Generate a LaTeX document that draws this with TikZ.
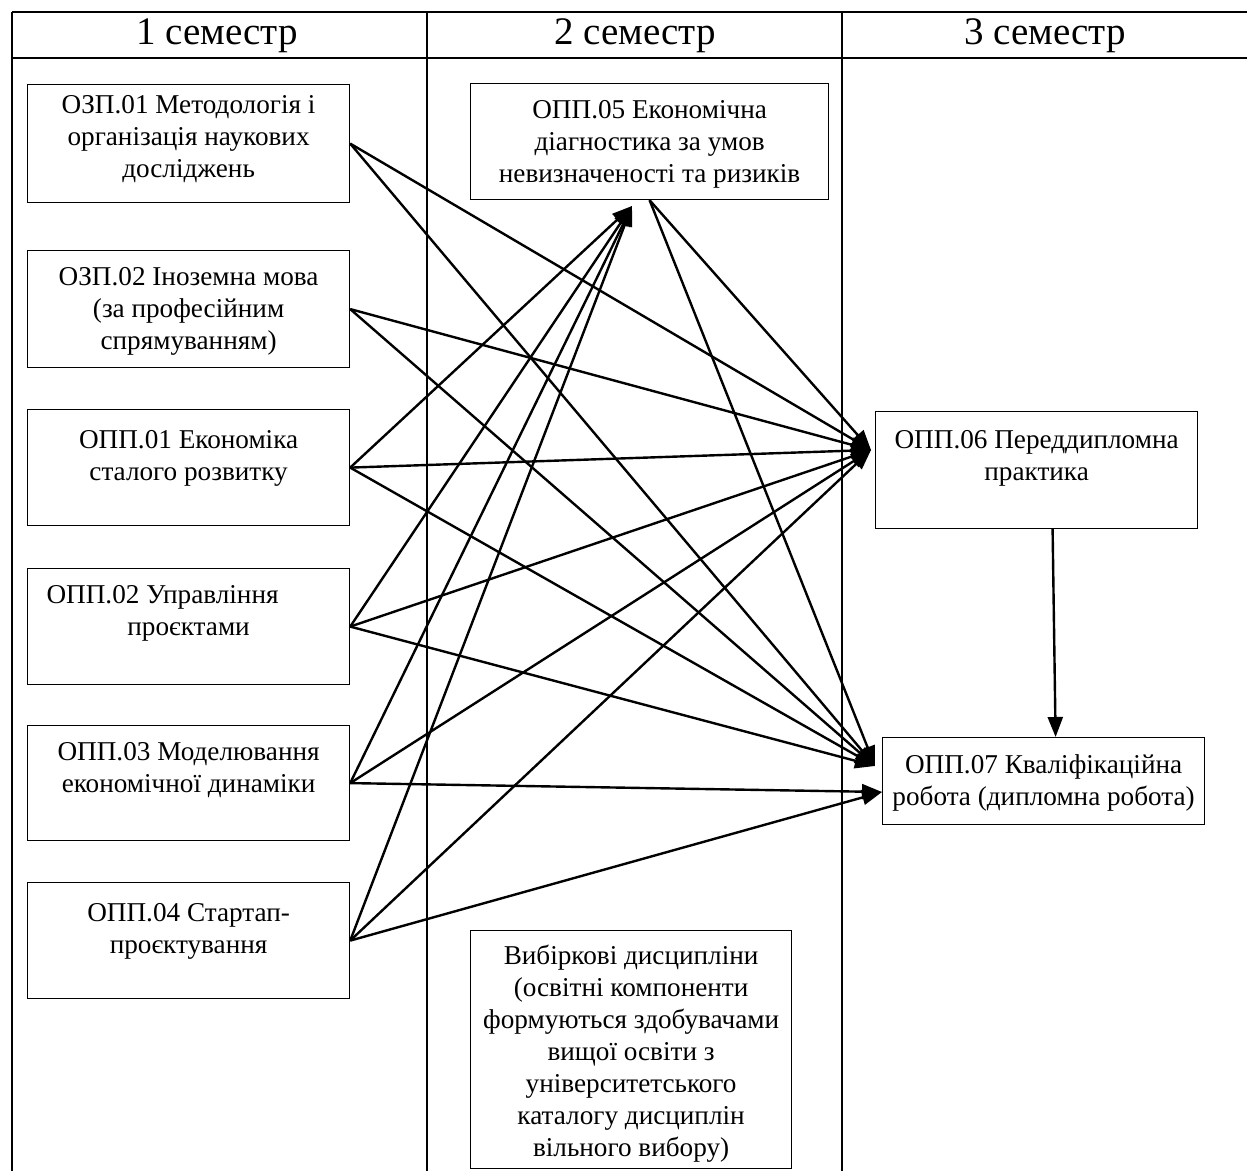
\documentclass[tikz,border=0pt]{standalone}
\usepackage{fontspec}
\setmainfont{Liberation Serif}
\usepackage{tikz}
\usetikzlibrary{bayesnet,arrows.meta}

\tikzset{
  subj/.style={draw, line width=0.6pt, anchor=north west, minimum width=161pt, inner sep=0pt},
  txt/.style={anchor=north, align=center, inner sep=0pt, font=\fontsize{13.6}{16}\selectfont, yshift=-8.5pt},
  head/.style={font=\fontsize{19.5}{22}\selectfont},
  arr/.style={>={Triangle[length=10pt,width=7.5pt]}, line width=1.2pt},
  grid/.style={line width=1.3pt},
}

\begin{document}
\begin{tikzpicture}[x=0.5pt,y=-0.5pt]
      \useasboundingbox (0,0) rectangle (1247,1171);
      % table
      \draw[grid] (12,12) -- (1247,12);
      \draw[grid] (12,58) -- (1247,58);
      \foreach \x in {12,427,842} \draw[grid] (\x,12) -- (\x,1171);
      \node[head] (s1) at (217,36) {1 семестр};
      \node[head] (s2) at (635,36) {2 семестр};
      \node[head] (s3) at (1045,36) {3 семестр};
      % 1 semester
      \node[subj, minimum height=59pt, label={[txt, yshift=3pt]north:{ОЗП.01 Методологія і\\організація наукових\\досліджень}}] (z1) at (27,84) {};
      \node[subj, minimum height=58.5pt, label={[txt]north:{ОЗП.02 Іноземна мова\\(за професійним\\спрямуванням)}}] (z2) at (27,250) {};
      \node[subj, minimum height=58pt, label={[txt, yshift=-2pt]north:{ОПП.01 Економіка\\сталого розвитку}}] (p1) at (27,409) {};
      \node[subj, minimum height=58pt, label={[txt]north:{ОПП.02 Управління\hspace*{26pt}\\проєктами}}] (p2) at (27,568) {};
      \node[subj, minimum height=57.5pt, label={[txt]north:{ОПП.03 Моделювання\\економічної динаміки}}] (p3) at (27,725) {};
      \node[subj, minimum height=58pt, label={[txt, yshift=-2pt]north:{ОПП.04 Стартап-\\проєктування}}] (p4) at (27,882) {};
      % 2 semester
      \node[subj, minimum width=179pt, minimum height=58pt, label={[txt]north:{ОПП.05 Економічна\\діагностика за умов\\невизначеності та ризиків}}] (p5) at (470,83) {};
      \node[subj, minimum width=160.5pt, minimum height=119pt, label={[txt, yshift=1pt]north:{Вибіркові дисципліни\\(освітні компоненти\\формуються здобувачами\\вищої освіти з\\університетського\\каталогу дисциплін\\вільного вибору)}}] (vyb) at (470,930) {};
      % 3 semester
      \node[subj, minimum height=58.5pt, label={[txt, yshift=-1pt]north:{ОПП.06 Переддипломна\\практика}}] (p6) at (875,411) {};
      \node[subj, minimum height=43.5pt, label={[txt]north:{ОПП.07 Кваліфікаційна\\робота (дипломна робота)}}] (p7) at (882,737) {};
      \coordinate (p5in) at (632,206);
      \coordinate (p6in) at (871,450);
      \coordinate (p7in) at (875,766);
      \coordinate (p7lo) at (882,792);
      \edge[arr]{p1.east,p2.east,p3.east,p4.east}{p5in}
      \edge[arr]{z1.east,z2.east,p1.east,p2.east,p3.east,p4.east,p5.south}{p6in}
      \edge[arr]{z1.east,z2.east,p1.east,p2.east,p5.south}{p7in}
      \edge[arr]{p3.east,p4.east}{p7lo}
      \draw[arr,->] ([xshift=8pt]p6.south) -- ([xshift=6pt]p7.north);
    \end{tikzpicture}
\end{document}
